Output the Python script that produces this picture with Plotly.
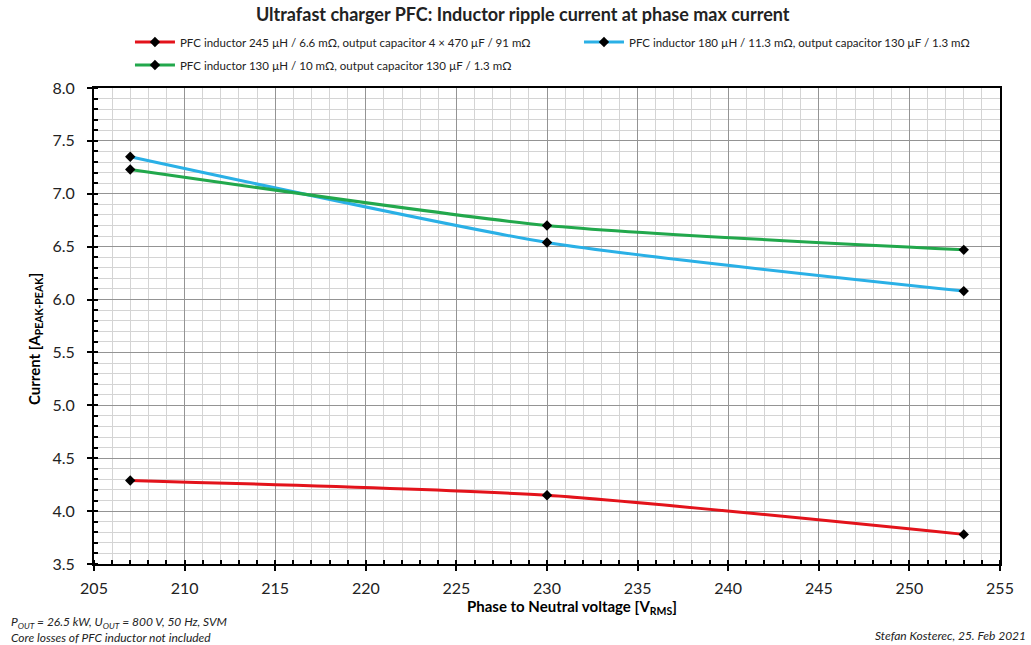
import plotly.graph_objects as go

# Phase-to-neutral voltage (V RMS)
voltage = [207, 230, 253]

# Inductor ripple current (A peak-peak) for three PFC designs
ripple_245uH = [4.29, 4.15, 3.78]
ripple_180uH = [7.35, 6.54, 6.08]
ripple_130uH = [7.23, 6.70, 6.47]

names = [
    "PFC inductor 245 µH / 6.6 mΩ, output capacitor 4 × 470 µF / 91 mΩ",
    "PFC inductor 180 µH / 11.3 mΩ, output capacitor 130 µF / 1.3 mΩ",
    "PFC inductor 130 µH / 10 mΩ, output capacitor 130 µF / 1.3 mΩ",
]
colors = ["#E3131B", "#2AB0E6", "#22A84C"]
series = [ripple_245uH, ripple_180uH, ripple_130uH]
# left legend column holds the 1st and 3rd design, right column the 2nd
legend_ids = ["legend", "legend2", "legend"]
groups = ["a", "b", "c"]

FONT = "Lato"

fig = go.Figure()
for name, vals, col, lg, grp in zip(names, series, colors, legend_ids, groups):
    fig.add_trace(go.Scatter(
        x=voltage, y=vals, name=name, mode="lines+markers",
        legend=lg, legendgroup=grp,
        line=dict(color=col, width=3, shape="spline", smoothing=0.6),
        marker=dict(symbol="diamond", size=8, color="black",
                    line=dict(color="black", width=0)),
    ))

axis_common = dict(
    showline=True, linecolor="black", linewidth=2, mirror=True,
    showgrid=True, gridcolor="#949494", gridwidth=1,
    ticks="outside", ticklen=5, tickwidth=2, tickcolor="black",
    tickfont=dict(family=FONT, size=16, color="#222"),
    zeroline=False,
)

fig.update_xaxes(
    range=[205, 255], dtick=5, tick0=205,
    minor=dict(dtick=1, showgrid=True, gridcolor="#d4d4d4", ticks="inside",
               ticklen=4, tickwidth=2, tickcolor="black"),
    ticklabelstandoff=4,
    **axis_common,
)
fig.update_yaxes(
    range=[3.5, 8.0], dtick=0.5, tick0=3.5, tickformat=".1f",
    minor=dict(dtick=0.1, showgrid=True, gridcolor="#d4d4d4", ticks="inside",
               ticklen=4, tickwidth=2, tickcolor="black"),
    ticklabelstandoff=9,
    **axis_common,
)

legend_style = dict(
    orientation="v", yanchor="top", xanchor="left", itemwidth=40,
    font=dict(family=FONT, size=11.5, color="#222"),
    tracegroupgap=4, bgcolor="rgba(0,0,0,0)", borderwidth=0,
)

fig.update_layout(
    width=1031, height=645,
    margin=dict(l=94, r=31, t=88, b=81),
    paper_bgcolor="white", plot_bgcolor="white",
    font=dict(family=FONT, color="#222"),
    title=dict(text="<b>Ultrafast charger PFC: Inductor ripple current at phase max current</b>",
               x=0.507, xanchor="center", y=0.977, yanchor="middle",
               font=dict(family=FONT, size=18, color="#222")),
    legend=dict(x=0.0397, y=1.127, **legend_style),
    legend2=dict(x=0.5353, y=1.127, **legend_style),
    showlegend=True,
)

# axis titles
fig.add_annotation(
    text="<b>Phase to Neutral voltage [V<sub>RMS</sub>]</b>",
    xref="paper", yref="paper", x=0.5276, y=-0.0903, xanchor="center", yanchor="middle",
    showarrow=False, font=dict(family=FONT, size=15, color="black"),
)
fig.add_annotation(
    text="<b>Current [A<sub>PEAK-PEAK</sub>]</b>", textangle=-90,
    xref="paper", yref="paper", x=-0.0651, y=0.4727, xanchor="center", yanchor="middle",
    showarrow=False, font=dict(family=FONT, size=15, color="black"),
)

# footnotes
fig.add_annotation(
    text="<i>P<sub>OUT</sub> = 26.5 kW, U<sub>OUT</sub> = 800 V, 50 Hz, SVM<br>Core losses of PFC inductor not included</i>",
    xref="paper", yref="paper", x=-0.094, y=-0.1, xanchor="left", yanchor="top",
    align="left", showarrow=False, font=dict(family=FONT, size=12, color="#222"),
)
fig.add_annotation(
    text="<i>Stefan Kosterec, 25. Feb 2021</i>",
    xref="paper", yref="paper", x=1.031, y=-0.13, xanchor="right", yanchor="top",
    showarrow=False, font=dict(family=FONT, size=12, color="#222"),
)

fig.write_html("out.html")
